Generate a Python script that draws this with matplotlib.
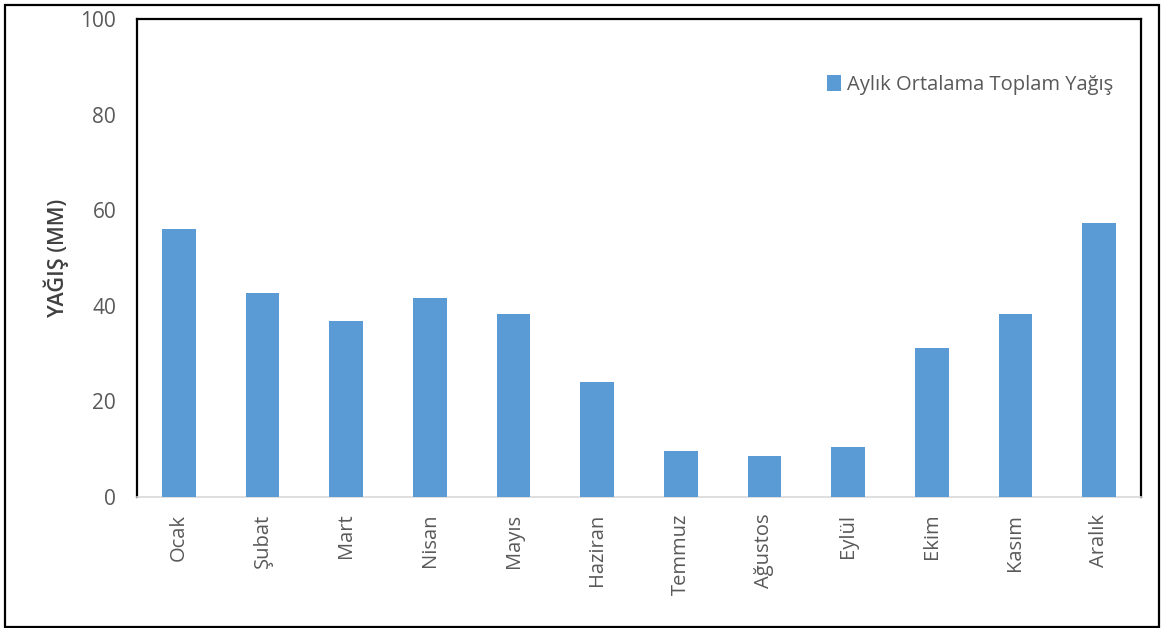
import matplotlib
matplotlib.use("Agg")
import matplotlib.pyplot as plt
from matplotlib.patches import Rectangle

months = ["Ocak", "Şubat", "Mart", "Nisan", "Mayıs", "Haziran",
          "Temmuz", "Ağustos", "Eylül", "Ekim", "Kasım", "Aralık"]
rain = [56.0, 42.6, 36.9, 41.7, 38.2, 24.1, 9.6, 8.6, 10.5, 31.2, 38.2, 57.4]
yticks = [0, 20, 40, 60, 80, 100]

plt.rcParams['font.family'] = ['Open Sans', 'DejaVu Sans']

fig = plt.figure(figsize=(11.63, 6.28), dpi=100)
ax = fig.add_axes([137/1163, 1 - 497/628, (1141-137)/1163, (497-19)/628])

x = range(len(months))
ax.bar(x, rain, width=0.4, color='#5B9BD5', label='Aylık Ortalama Toplam Yağış', zorder=3)

ax.set_xlim(-0.5, len(months) - 0.5)
ax.set_ylim(0, 100)
ax.set_yticks(yticks)
ax.set_xticks(list(x))
ax.set_xticklabels(months, rotation=90, fontsize=14.5, color='#595959')
ax.tick_params(axis='y', labelsize=15, labelcolor='#595959', length=0, pad=15)
ax.tick_params(axis='x', length=0, pad=12)

for s in ['left', 'top', 'right']:
    ax.spines[s].set_color('black')
    ax.spines[s].set_linewidth(1.6)
ax.spines['bottom'].set_color('#D9D9D9')
ax.spines['bottom'].set_linewidth(1.2)

ax.set_ylabel('YAĞIŞ (MM)', fontsize=15.5, fontweight='semibold', color='#404040', labelpad=8)

ax.legend(loc='upper right', bbox_to_anchor=(0.99, 0.92), frameon=False, fontsize=14.5,
          labelcolor='#595959', handlelength=0.65, handleheight=0.85, handletextpad=0.3)

# outer border around the whole chart
fig.patches.append(Rectangle((5/1163, 1/628), 1154/1163, 622/628, transform=fig.transFigure,
                             fill=False, edgecolor='black', linewidth=1.6))

fig.savefig('out.png', dpi=100)
